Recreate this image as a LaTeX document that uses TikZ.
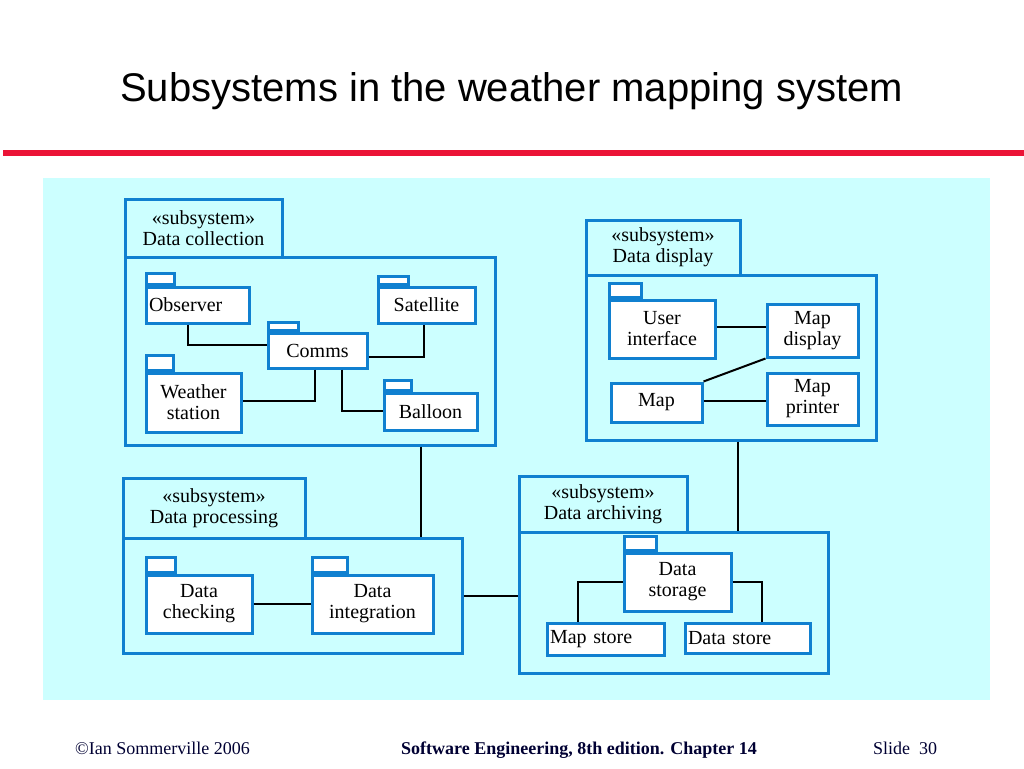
\documentclass[tikz,border=0pt]{standalone}
\usepackage{fontspec}
\setmainfont{Liberation Serif}
\newfontfamily\titlefont{Liberation Sans}
\definecolor{umlblue}{RGB}{16,128,208}
\definecolor{panelcyan}{RGB}{204,255,255}
\definecolor{slidered}{RGB}{235,20,55}
\definecolor{footnavy}{RGB}{0,0,51}
\newcommand{\diagfont}{\fontsize{20}{21}\selectfont}
\newcommand{\footfont}{\fontsize{18}{20}\selectfont}
\begin{document}
\begin{tikzpicture}[x=1pt, y=-1pt,
  pkgline/.style={draw=umlblue, line width=3pt},
  subtab/.style={pkgline, fill=panelcyan, align=center, font=\diagfont, inner sep=0pt},
  subbody/.style={pkgline, fill=panelcyan, inner sep=0pt},
  pkg/.style={pkgline, fill=white, align=center, font=\diagfont, inner sep=2pt},
  pkgleft/.style={pkg, align=left, inner xsep=3pt},
  pkgtab/.style={pkgline, fill=white, inner sep=0pt, anchor=south west},
  link/.style={draw=black, line width=2pt},
  footer/.style={text=footnavy, font=\footfont, inner sep=0pt}]
  % Seite
  \fill[white] (0,0) rectangle (1024,768);
  \useasboundingbox (0,0) rectangle (1024,768);
  \node[font=\titlefont\fontsize{40}{44}\selectfont, anchor=base, inner sep=0pt] (title) at (511.5,101) {Subsystems in the weather mapping system};
  \draw[slidered, line width=6pt] (3,153) -- (1024,153);
  \fill[panelcyan] (43,178) rectangle (990,700);

  % Data collection
  \node[subbody, minimum width=370, minimum height=188] (colbody) at (310,351) {};
  \node[subtab, minimum width=157, minimum height=58] (coltab) at (203.5,228) {«subsystem»\\Data collection};
  \node[pkgleft, text width=97, minimum height=36] (observer) at (197.5,305) {Observer};
  \node[pkg, minimum width=97, minimum height=36] (satellite) at (426.5,305) {Satellite};
  \node[pkg, minimum width=99, minimum height=35] (comms) at (317.5,350.5) {Comms};
  \node[pkg, minimum width=95, minimum height=59] (weather) at (193.5,402.5) {Weather\\station};
  \node[pkg, minimum width=93, minimum height=37] (balloon) at (430.5,411.5) {Balloon};
  \node[pkgtab, minimum width=28, minimum height=11] (observertab) at (observer.north west) {};
  \node[pkgtab, minimum width=30, minimum height=8] (satellitetab) at (satellite.north west) {};
  \node[pkgtab, minimum width=30, minimum height=8] (commstab) at (comms.north west) {};
  \node[pkgtab, minimum width=27, minimum height=15] (weathertab) at (weather.north west) {};
  \node[pkgtab, minimum width=27, minimum height=10] (balloontab) at (balloon.north west) {};
  \draw[link] ([xshift=-10pt]observer.south) |- ([yshift=6pt]comms.west);
  \draw[link] ([yshift=-6pt]comms.east) -| ([xshift=-3pt]satellite.south);
  \draw[link] ([xshift=-3pt]comms.south) |- ([yshift=2pt]weather.east);
  \draw[link] ([xshift=24pt]comms.south) |- ([yshift=1pt]balloon.west);

  % Data display
  \node[subbody, minimum width=290, minimum height=165] (dispbody) at (731,357.5) {};
  \node[subtab, minimum width=154, minimum height=55] (disptab) at (663,247.5) {«subsystem»\\Data display};
  \node[pkg, minimum width=106, minimum height=58] (userif) at (662,329) {User\\interface};
  \node[pkg, minimum width=91, minimum height=53] (mapdisp) at (812.5,330.5) {Map\\display};
  \node[pkg, minimum width=91, minimum height=39] (map) at (656.5,402.5) {Map};
  \node[pkg, minimum width=91, minimum height=52] (mapprint) at (812.5,399) {Map\\printer};
  \node[pkgtab, minimum width=32, minimum height=14] (useriftab) at (userif.north west) {};
  \draw[link] ([yshift=2pt]userif.east) -- ([yshift=2pt]userif.east -| mapdisp.west);
  \draw[link] (map.north east) -- (mapdisp.south west);
  \draw[link] ([yshift=1.5pt]map.east) -- ([yshift=1.5pt]map.east -| mapprint.west);

  % Data processing
  \node[subbody, minimum width=339, minimum height=115] (procbody) at (292.5,595.5) {};
  \node[subtab, minimum width=182, minimum height=60] (proctab) at (214,508) {«subsystem»\\Data processing};
  \node[pkg, minimum width=106, minimum height=58] (checking) at (199,604) {Data\\checking};
  \node[pkg, minimum width=121, minimum height=58] (integration) at (372.5,604) {Data\\integration};
  \node[pkgtab, minimum width=29, minimum height=15] (checkingtab) at (checking.north west) {};
  \node[pkgtab, minimum width=35, minimum height=15] (integrationtab) at (integration.north west) {};
  \draw[link] (checking.east) -- (integration.west);

  % Data archiving
  \node[subbody, minimum width=309, minimum height=141] (archbody) at (673.5,602.5) {};
  \node[subtab, minimum width=168, minimum height=56] (archtab) at (603,504) {«subsystem»\\Data archiving};
  \node[pkg, minimum width=107, minimum height=58] (storage) at (677.5,582) {Data\\storage};
  \node[pkgleft, text width=111, minimum height=32] (mapstore) at (605.5,639) {Map store};
  \node[pkgleft, text width=119, minimum height=30] (datastore) at (747.5,638) {Data store};
  \node[pkgtab, minimum width=32, minimum height=14] (storagetab) at (storage.north west) {};
  \draw[link] (storage.west) -| ([xshift=-27.5pt]mapstore.north);
  \draw[link] (storage.east) -| ([xshift=14.5pt]datastore.north);

  % Verbindungen zwischen Subsystemen
  \coordinate (colproc) at ([xshift=111pt]colbody.south);
  \coordinate (disparch) at ([xshift=7pt]dispbody.south);
  \draw[link] (colproc) -- (colproc |- procbody.north);
  \draw[link] (disparch) -- (disparch |- archbody.north);
  \draw[link] (procbody.east) -- (procbody.east -| archbody.west);

  % Fusszeile
  \node[footer, anchor=base west] (copyright) at (75,754) {©Ian Sommerville 2006};
  \node[footer, font=\footfont\bfseries, anchor=base] (book) at (579,754) {Software Engineering, 8th edition. Chapter 14};
  \node[footer, anchor=base west] (slideno) at (873,754) {Slide\ \ 30};
\end{tikzpicture}
\end{document}
